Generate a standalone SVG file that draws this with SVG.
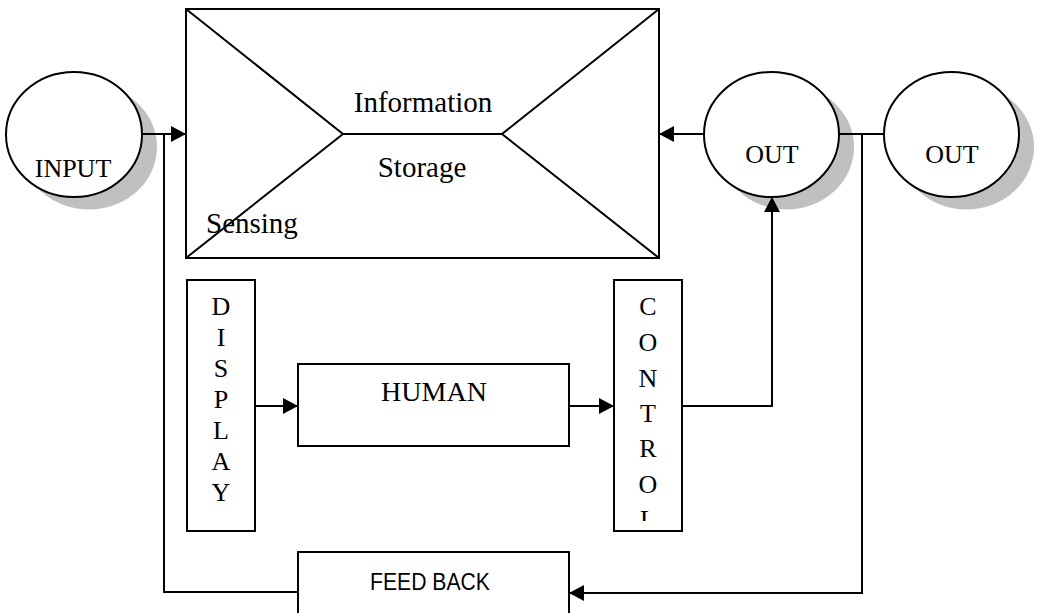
<svg xmlns="http://www.w3.org/2000/svg" width="1039" height="613" viewBox="0 0 1039 613">
  <style>
    .box { fill: #ffffff; stroke: #000000; stroke-width: 2; }
    .line { fill: none; stroke: #000000; stroke-width: 2; }
    .shadow { fill: #c0c0c0; stroke: none; }
    .serif { font-family: "Liberation Serif", "Times New Roman", serif; fill: #000000; }
    .sans { font-family: "Liberation Sans", Arial, sans-serif; fill: #000000; }
    .wire { fill: none; stroke: #000000; stroke-width: 2; }
    .arrow { marker-end: url(#head); }
  </style>
  <defs>
    <marker id="head" markerUnits="userSpaceOnUse" markerWidth="15" markerHeight="16" refX="15" refY="8" orient="auto">
      <path d="M0,0 L15,8 L0,16 z" fill="#000000"/>
    </marker>
    <clipPath id="controlClip">
      <rect x="615" y="281" width="66" height="240"/>
    </clipPath>
  </defs>

  <!-- input source -->
  <g id="input">
    <ellipse class="shadow" cx="89" cy="147" rx="68" ry="62.5"/>
    <ellipse class="box" cx="74" cy="134.5" rx="68" ry="62.5"/>
    <text class="serif" x="73" y="177" font-size="26" text-anchor="middle">INPUT</text>
  </g>

  <!-- sensing / information storage block -->
  <g id="storage">
    <rect class="box" x="186" y="9" width="473" height="249"/>
    <path class="line" d="M186,9 L343,134 L502,134 L659,9 M186,258 L343,134 M502,134 L659,258"/>
    <text class="serif" x="423" y="112" font-size="29" text-anchor="middle">Information</text>
    <text class="serif" x="422" y="177" font-size="29" text-anchor="middle">Storage</text>
    <text class="serif" x="206" y="233" font-size="29">Sensing</text>
  </g>

  <!-- first output -->
  <g id="out1">
    <ellipse class="shadow" cx="786.5" cy="147" rx="67.5" ry="62.5"/>
    <ellipse class="box" cx="771.5" cy="134.5" rx="67.5" ry="62.5"/>
    <text class="serif" x="772" y="163" font-size="26" text-anchor="middle">OUT</text>
  </g>

  <!-- second output -->
  <g id="out2">
    <ellipse class="shadow" cx="966.5" cy="147" rx="67.5" ry="62.5"/>
    <ellipse class="box" cx="951.5" cy="134.5" rx="67.5" ry="62.5"/>
    <text class="serif" x="952" y="163" font-size="26" text-anchor="middle">OUT</text>
  </g>

  <!-- display column -->
  <g id="display">
    <rect class="box" x="187" y="280" width="68" height="251"/>
    <g class="serif" font-size="26" text-anchor="middle">
      <text x="221" y="315">D</text>
      <text x="221" y="346">I</text>
      <text x="221" y="377">S</text>
      <text x="221" y="408">P</text>
      <text x="221" y="439">L</text>
      <text x="221" y="470">A</text>
      <text x="221" y="501">Y</text>
    </g>
  </g>

  <!-- human operator -->
  <g id="human">
    <rect class="box" x="298" y="364" width="271" height="82"/>
    <text class="serif" x="434" y="401" font-size="28" text-anchor="middle">HUMAN</text>
  </g>

  <!-- control column -->
  <g id="control">
    <rect class="box" x="614" y="280" width="68" height="251"/>
    <g class="serif" font-size="26" text-anchor="middle" clip-path="url(#controlClip)">
      <text x="648" y="315">C</text>
      <text x="648" y="351">O</text>
      <text x="648" y="387">N</text>
      <text x="648" y="422">T</text>
      <text x="648" y="457">R</text>
      <text x="648" y="493">O</text>
      <text x="648" y="528">L</text>
    </g>
  </g>

  <!-- feedback block -->
  <g id="feedback">
    <rect class="box" x="298" y="552" width="271" height="80"/>
    <text class="sans" x="370" y="590" font-size="23" textLength="120" lengthAdjust="spacingAndGlyphs">FEED BACK</text>
  </g>

  <!-- connectors -->
  <g id="connectors">
    <path class="wire arrow" d="M142,134 L186,134"/>
    <path class="wire" d="M298,592 L164,592 L164,134"/>
    <path class="wire arrow" d="M704,134 L659,134"/>
    <path class="wire" d="M839,134 L884,134"/>
    <path class="wire arrow" d="M862,134 L862,593 L569,593"/>
    <path class="wire arrow" d="M255,406 L298,406"/>
    <path class="wire arrow" d="M569,406 L614,406"/>
    <path class="wire arrow" d="M682,406 L772,406 L772,197"/>
  </g>
</svg>
